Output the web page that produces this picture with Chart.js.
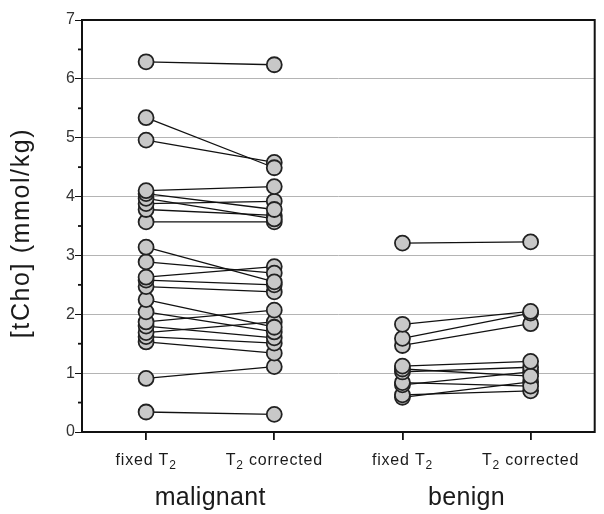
<!DOCTYPE html>
<html>
<head>
<meta charset="utf-8">
<script src="https://cdn.jsdelivr.net/npm/chart.js@4"></script>
<style>
  html, body { margin: 0; padding: 0; background: #fff; }
  #wrap { width: 604px; height: 514px; }
</style>
</head>
<body>
<div id="wrap"><canvas id="tcho_chart" width="604" height="514"></canvas></div>
<script>
// category positions on the x axis and their labels
const xPos = [1, 2, 3, 4];
const tickLabels = ['fixed T\u2082', 'T\u2082 corrected', 'fixed T\u2082', 'T\u2082 corrected'];
const groupLabels = ['malignant', 'benign'];
const groupPos = [1.5, 3.5];
const yTitle = '[tCho] (mmol/kg)';

// paired values, same index = same lesion
const malFixed = [6.29, 5.34, 4.96, 4.10, 4.05, 3.97, 3.88, 3.78, 3.57, 3.14, 2.89, 2.63, 2.58, 2.47, 2.25, 2.04, 1.87, 1.80, 1.69, 1.62, 1.53, 0.91, 0.34];
const malCorr  = [6.24, 4.49, 4.58, 4.17, 3.78, 3.62, 3.92, 3.68, 3.57, 2.55, 2.70, 2.81, 2.50, 2.38, 1.78, 1.70, 2.07, 1.60, 1.87, 1.51, 1.34, 1.11, 0.30];
const benFixed = [3.21, 1.83, 1.59, 1.47, 1.12, 1.07, 1.02, 0.84, 0.80, 0.63, 0.59];
const benCorr  = [3.23, 2.05, 2.02, 1.84, 1.20, 0.95, 1.10, 0.78, 1.02, 0.70, 0.85];

const FONT = "'Liberation Sans', Arial, sans-serif";

function pairSet(a, b, xa, xb) {
  return a.map((v, i) => ({
    data: [{x: xa, y: v}, {x: xb, y: b[i]}],
    showLine: true,
    borderColor: '#111',
    borderWidth: 1.3,
    pointRadius: 7.5,
    pointBackgroundColor: '#c8c8c8',
    pointBorderColor: '#222',
    pointBorderWidth: 1.8
  }));
}

const datasets = [
  ...pairSet(malFixed, malCorr, xPos[0], xPos[1]),
  ...pairSet(benFixed, benCorr, xPos[2], xPos[3])
];

// text with a subscript 2 (T₂)
function drawSubText(ctx, text, cx, base, size) {
  const parts = text.split('\u2082');
  const big = size + 'px ' + FONT, small = Math.round(size * 0.72) + 'px ' + FONT;
  let w = 0;
  parts.forEach((p, i) => {
    ctx.font = big; w += ctx.measureText(p).width;
    if (i < parts.length - 1) { ctx.font = small; w += ctx.measureText('2').width; }
  });
  let x = cx - w / 2;
  ctx.textAlign = 'left';
  ctx.textBaseline = 'alphabetic';
  parts.forEach((p, i) => {
    ctx.font = big; ctx.fillText(p, x, base); x += ctx.measureText(p).width;
    if (i < parts.length - 1) {
      ctx.font = small; ctx.fillText('2', x, base + 4); x += ctx.measureText('2').width;
    }
  });
}

// box round the plot, minor ticks, labels
const framePlugin = {
  id: 'frame',
  afterDraw(chart) {
    const {ctx, chartArea: a, scales} = chart;
    ctx.save();
    ctx.strokeStyle = '#111';
    ctx.lineWidth = 2;
    ctx.strokeRect(a.left, a.top, a.right - a.left, a.bottom - a.top);

    // minor y ticks
    ctx.lineWidth = 1.8;
    for (let v = 0.5; v < 7; v += 1) {
      const y = scales.y.getPixelForValue(v);
      ctx.beginPath(); ctx.moveTo(a.left - 4, y); ctx.lineTo(a.left, y); ctx.stroke();
    }

    ctx.fillStyle = '#1a1a1a';
    ctx.letterSpacing = '0.8px';
    tickLabels.forEach((t, i) => {
      drawSubText(ctx, t, scales.x.getPixelForValue(xPos[i]), 465, 16);
    });

    ctx.letterSpacing = '0.3px';
    ctx.font = '25px ' + FONT;
    ctx.textAlign = 'center';
    ctx.textBaseline = 'alphabetic';
    groupLabels.forEach((t, i) => {
      ctx.fillText(t, scales.x.getPixelForValue(groupPos[i]), 505);
    });

    ctx.letterSpacing = '1.6px';
    ctx.translate(22, 233);
    ctx.rotate(-Math.PI / 2);
    ctx.textBaseline = 'middle';
    ctx.fillText(yTitle, 0, 0);
    ctx.restore();
  }
};

new Chart(document.getElementById('tcho_chart').getContext('2d'), {
  type: 'scatter',
  data: { datasets },
  plugins: [framePlugin],
  options: {
    responsive: false,
    animation: false,
    layout: { padding: { top: 20, right: 7, left: 0, bottom: 0 } },
    plugins: { legend: { display: false }, tooltip: { enabled: false } },
    scales: {
      x: {
        type: 'linear',
        min: 0.5,
        max: 4.5,
        afterBuildTicks: s => { s.ticks = xPos.map(v => ({value: v})); },
        afterFit: s => { s.height = 82; },
        ticks: { display: false },
        grid: { drawOnChartArea: false, color: '#111', tickLength: 8, lineWidth: 1.8 },
        border: { display: false }
      },
      y: {
        min: 0,
        max: 7,
        ticks: {
          stepSize: 1,
          color: '#333',
          font: { family: FONT, size: 16 },
          padding: 0
        },
        afterFit: s => { s.width = 82; },
        grid: {
          color: '#b4b4b4',
          tickColor: '#111',
          tickLength: 7,
          lineWidth: 1
        },
        border: { display: false }
      }
    }
  }
});
</script>
</body>
</html>
